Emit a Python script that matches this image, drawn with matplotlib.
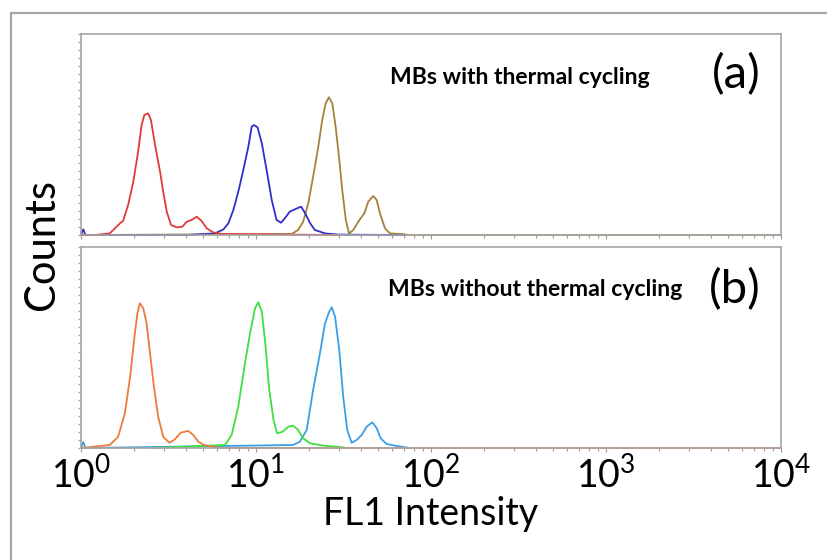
import numpy as np
import matplotlib.pyplot as plt
from matplotlib.patches import Rectangle

plt.rcParams['font.family'] = ['Lato', 'DejaVu Sans']
plt.rcParams['mathtext.fontset'] = 'custom'
plt.rcParams['mathtext.rm'] = 'Lato'
plt.rcParams['mathtext.it'] = 'Lato:italic'
plt.rcParams['mathtext.bf'] = 'Lato:bold'

# ---- panel (a): MBs with thermal cycling (FL1 intensity, relative counts) ----
red_x = [1.0, 1.20, 1.46, 1.67, 1.74, 1.86, 1.99, 2.12, 2.22, 2.30, 2.42, 2.51, 2.65, 2.83,
         2.95, 3.09, 3.27, 3.52, 3.79, 4.02, 4.29, 4.58, 4.89, 5.23, 5.70, 6.37, 30.0]
red_y = [0.0, 0.0, 0.008, 0.058, 0.07, 0.15, 0.265, 0.414, 0.547, 0.597, 0.605, 0.572, 0.448, 0.315,
         0.215, 0.116, 0.05, 0.038, 0.041, 0.066, 0.075, 0.091, 0.07, 0.033, 0.013, 0.005, 0.0]

blue_x = [1.0, 1.03, 1.06, 4.0, 5.11, 5.83, 6.51, 6.95, 7.42, 7.92, 8.46, 9.04, 9.45, 9.74, 10.2,
          10.8, 11.5, 12.3, 13.1, 13.9, 14.6, 15.6, 16.7, 18.1, 19.1, 20.4, 21.7, 24.8, 29.5, 71.0]
blue_y = [0.0, 0.028, 0.0, 0.0, 0.005, 0.008, 0.028, 0.058, 0.124, 0.215, 0.323, 0.439, 0.539, 0.547, 0.536,
          0.456, 0.323, 0.174, 0.075, 0.061, 0.083, 0.116, 0.128, 0.141, 0.108, 0.058, 0.025, 0.008, 0.002, 0.0]

brown_x = [1.0, 16.0, 17.4, 18.6, 19.9, 21.2, 22.7, 23.9, 25.0, 26.1, 27.3, 28.5, 29.8, 31.1, 32.6,
           34.0, 36.0, 38.4, 41.6, 43.8, 46.8, 48.9, 51.1, 54.6, 58.3, 63.7, 68.0, 74.2, 10000.0]
brown_y = [0.0, 0.005, 0.025, 0.066, 0.158, 0.29, 0.439, 0.572, 0.655, 0.685, 0.655, 0.539, 0.39, 0.224, 0.075,
           0.008, 0.025, 0.066, 0.108, 0.166, 0.194, 0.174, 0.108, 0.033, 0.008, 0.006, 0.005, 0.0, 0.0]

# ---- panel (b): MBs without thermal cycling ----
cyan_x = [1.0, 1.03, 1.06, 16.3, 17.8, 19.5, 21.2, 23.2, 24.8, 26.2, 27.1, 28.3, 29.9, 31.5, 33.2,
          35.2, 37.6, 40.2, 42.9, 46.2, 49.0, 51.6, 55.8, 63.7, 75.9]
cyan_y = [0.0, 0.03, 0.0, 0.015, 0.031, 0.09, 0.289, 0.471, 0.62, 0.678, 0.70, 0.653, 0.488, 0.256, 0.09,
          0.026, 0.04, 0.065, 0.106, 0.128, 0.098, 0.048, 0.02, 0.01, 0.0]

green_x = [2.5, 6.65, 7.26, 7.92, 8.65, 9.24, 9.87, 10.3, 10.8, 11.3, 11.9, 12.6, 13.2, 14.2, 15.3,
           16.3, 17.4, 18.6, 20.4, 24.2, 30.2, 33.0]
green_y = [0.0, 0.015, 0.065, 0.206, 0.421, 0.57, 0.695, 0.725, 0.678, 0.521, 0.289, 0.139, 0.073, 0.081, 0.106,
           0.111, 0.09, 0.048, 0.023, 0.012, 0.005, 0.0]

orange_x = [1.0, 1.46, 1.63, 1.78, 1.91, 2.01, 2.10, 2.17, 2.27, 2.37, 2.48, 2.61, 2.76, 2.95, 3.20,
            3.44, 3.71, 4.10, 4.38, 4.68, 5.04, 5.70, 6.48, 10000.0]
orange_y = [0.0, 0.015, 0.056, 0.172, 0.355, 0.537, 0.67, 0.72, 0.695, 0.62, 0.471, 0.305, 0.156, 0.056, 0.026,
            0.043, 0.076, 0.085, 0.065, 0.031, 0.015, 0.005, 0.0, 0.0]

tick_vals = [1, 10, 100, 1000, 10000]
tick_labels = [r'$\mathregular{10^{0}}$', r'$\mathregular{10^{1}}$', r'$\mathregular{10^{2}}$',
               r'$\mathregular{10^{3}}$', r'$\mathregular{10^{4}}$']

fig = plt.figure(figsize=(8.27, 5.6), dpi=100)
# outer frame, runs off the right and bottom edges
frame_top = 1 - 13 / 560
frame = Rectangle((11 / 827, -0.2), 1.2, frame_top + 0.2, transform=fig.transFigure,
                  fill=False, edgecolor='#a6a6a6', lw=1.6)
fig.patches.append(frame)

ax_a = fig.add_axes([81 / 827, 1 - 235 / 560, 700 / 827, 201 / 560])
ax_b = fig.add_axes([81 / 827, 1 - 448 / 560, 700 / 827, 201 / 560])

ax_a.plot(brown_x, brown_y, color='#a8803c', lw=1.3, clip_on=False)
ax_a.plot(blue_x, blue_y, color='#2f2fcc', lw=1.3, clip_on=False)
ax_a.plot(red_x, red_y, color='#e03a3a', lw=1.3, clip_on=False)

ax_b.plot(cyan_x, cyan_y, color='#3a9fe6', lw=1.3, clip_on=False)
ax_b.plot(green_x, green_y, color='#3ee03e', lw=1.3, clip_on=False)
ax_b.plot(orange_x, orange_y, color='#f07a3a', lw=1.3, clip_on=False)

for ax in (ax_a, ax_b):
    ax.set_xscale('log')
    ax.set_xlim(1, 10000)
    ax.set_ylim(0, 1)
    for sp in ax.spines.values():
        sp.set_color('#a6a6a6')
        sp.set_linewidth(1.2)
    ax.set_yticks(np.linspace(0, 1, 26))
    ax.set_yticklabels([])
    ax.tick_params(axis='y', length=2, color='#9a9a9a', width=0.8)
    ax.tick_params(axis='x', which='both', direction='out', color='#9a9a9a', width=0.8)
    ax.tick_params(axis='x', which='major', length=3)
    ax.tick_params(axis='x', which='minor', length=2)
    ax.set_xticks(tick_vals)

ax_a.set_xticklabels([])
ax_b.set_xticklabels(tick_labels, fontsize=27)
ax_b.tick_params(axis='x', which='major', pad=3)
ax_b.set_xlabel('FL1 Intensity', fontsize=27, labelpad=1)

fig.text(42 / 827, 1 - 245 / 560, 'Counts', rotation=90, fontsize=30, ha='center', va='center')

ax_a.text(0.441, 0.785, 'MBs with thermal cycling', transform=ax_a.transAxes,
          fontsize=16.6, fontweight='bold', ha='left', va='center')
ax_a.text(0.971, 0.8, '(a)', transform=ax_a.transAxes, fontsize=34, ha='right', va='center')
ax_b.text(0.438, 0.79, 'MBs without thermal cycling', transform=ax_b.transAxes,
          fontsize=16.6, fontweight='bold', ha='left', va='center')
ax_b.text(0.971, 0.79, '(b)', transform=ax_b.transAxes, fontsize=34, ha='right', va='center')

fig.savefig('out.png', dpi=100)
